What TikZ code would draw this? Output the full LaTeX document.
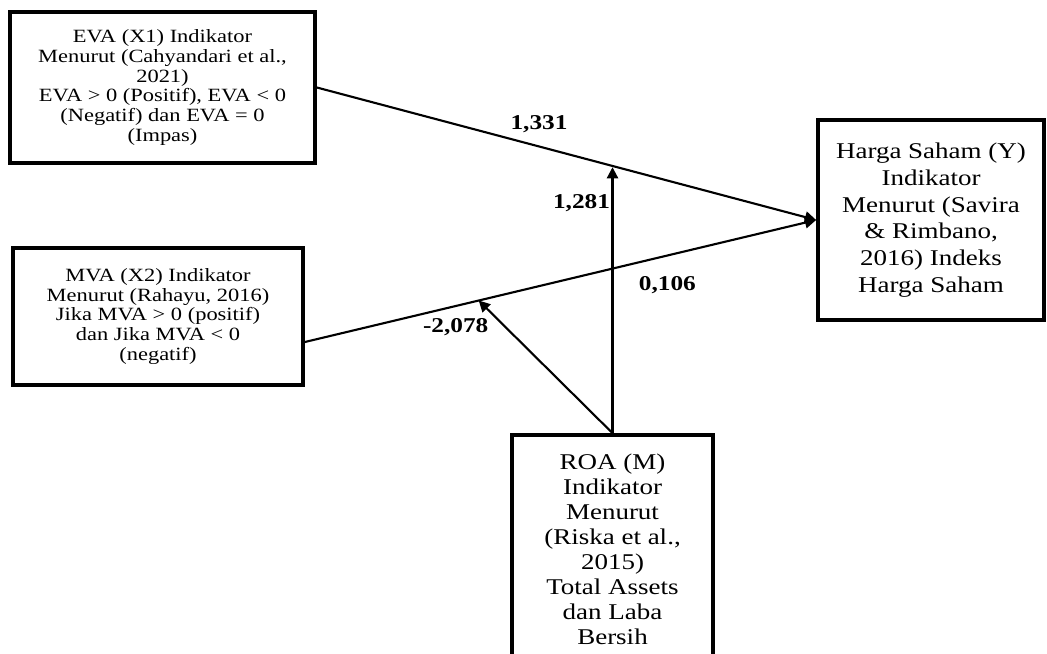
\documentclass[tikz,border=0pt]{standalone}
\usepackage{fontspec}
\setmainfont[FakeStretch=1.2]{Liberation Serif}
\usetikzlibrary{arrows.meta, calc}

\tikzset{
    box/.style={draw, line width=2.6pt, inner sep=0pt, align=center},
    smallbox/.style={box, font=\fontsize{13.3}{14}\selectfont},
    bigbox/.style={box, font=\fontsize{16}{19}\selectfont},
    coef/.style={font=\fontsize{15}{18}\selectfont\bfseries, inner sep=1pt}
}

\begin{document}
\begin{tikzpicture}[
    x=0.025cm, y=-0.025cm,
    line width=1.5pt,
    >={Triangle[length=8pt, width=8pt]}
]
\useasboundingbox (0,0) rectangle (1047,653);
\clip (0,0) rectangle (1047,653);

\node[smallbox, minimum width=7.625cm, minimum height=3.775cm] (eva) at (162.5,87.5)
    {EVA (X1) Indikator\\Menurut (Cahyandari et al.,\\2021)\\EVA > 0 (Positif), EVA < 0\\(Negatif) dan EVA = 0\\(Impas)};
\node[smallbox, minimum width=7.25cm, minimum height=3.425cm] (mva) at (158,316.5)
    {MVA (X2) Indikator\\Menurut (Rahayu, 2016)\\Jika MVA > 0 (positif)\\dan Jika MVA < 0\\(negatif)};
\node[bigbox, minimum width=5.65cm, minimum height=5cm] (harga) at (931,220)
    {Harga Saham (Y)\\Indikator\\Menurut (Savira\\\& Rimbano,\\2016) Indeks\\Harga Saham};
\node[bigbox, font=\fontsize{16}{17.8}\selectfont, minimum width=5.025cm, minimum height=5.7cm] (roa) at (612.5,549)
    {ROA (M)\\Indikator\\Menurut\\(Riska et al.,\\2015)\\Total Assets\\dan Laba\\Bersih};

\coordinate (mvaout) at ($(mva.east)+(0,25.5)$);
\coordinate (onx1) at ($(eva.east)!0.591!(harga.west)$);
\coordinate (onx2) at ($(mvaout)!0.34!(harga.west)$);

% paths and coefficients
\draw[->] (eva.east) -- node (c1) [coef, pos=0.445, yshift=16pt] {1,331} (harga.west);
\draw[->] (mvaout) -- node (c2) [coef, pos=0.709, yshift=-21pt] {0,106}
    node (c4) [coef, pos=0.295, yshift=-15pt] {-2,078} (harga.west);
\draw[->, shorten >=1pt] (roa.north) -- node (c3) [coef, pos=0.86, left] {1,281} (roa.north |- onx1);
\draw[->] (roa.north) -- (onx2);

\end{tikzpicture}
\end{document}
